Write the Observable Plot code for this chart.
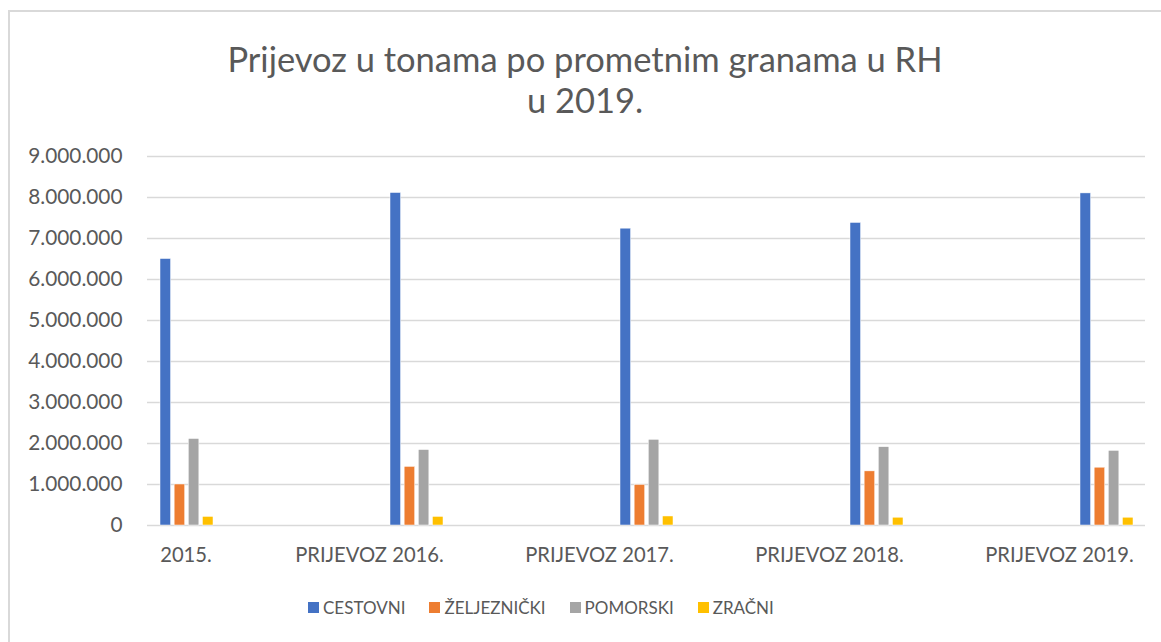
<!DOCTYPE html>
<html>
<head>
<meta charset="utf-8">
<script src="https://cdn.jsdelivr.net/npm/d3@7"></script>
<script src="https://cdn.jsdelivr.net/npm/@observablehq/plot@0.6"></script>
<style>
  html, body { margin: 0; padding: 0; background: #fff; overflow: hidden; }
  #wrap { position: relative; width: 1161px; height: 642px; overflow: hidden; font-family: Lato, "Open Sans", sans-serif; color: #595959; }
  #frame { position: absolute; left: 8px; top: 10px; width: 1200px; height: 700px; border: 2px solid #d9d9d9; box-sizing: border-box; }
  #title { position: absolute; left: 8px; width: 1154px; top: 38px; text-align: center; font-size: 34.5px; line-height: 41px; color: #595959; }
  #chart { position: absolute; left: 0; top: 130px; }
  #legend { position: absolute; top: 597px; left: 308px; display: flex; gap: 24px; font-size: 17px; color: #595959; }
  #legend .item { display: flex; align-items: center; }
  #legend .sw { width: 11px; height: 11px; margin-right: 4px; }
</style>
</head>
<body>
<div id="wrap">
  <div id="frame"></div>
  <div id="title">Prijevoz u tonama po prometnim granama u RH<br>u 2019.</div>
  <div id="chart"></div>
  <div id="legend"></div>
</div>
<script>
const categories = ["2015.", "PRIJEVOZ 2016.", "PRIJEVOZ 2017.", "PRIJEVOZ 2018.", "PRIJEVOZ 2019."];
const seriesNames = ["CESTOVNI", "ŽELJEZNIČKI", "POMORSKI", "ZRAČNI"];
const seriesColors = ["#4472C4", "#ED7D31", "#A5A5A5", "#FFC000"];
const cestovni = [6500000, 8110000, 7240000, 7380000, 8100000];
const zeljeznicki = [1000000, 1430000, 990000, 1320000, 1410000];
const pomorski = [2110000, 1840000, 2090000, 1910000, 1820000];
const zracni = [210000, 210000, 220000, 190000, 190000];
const yTicks = [0, 1000000, 2000000, 3000000, 4000000, 5000000, 6000000, 7000000, 8000000, 9000000];

const seriesValues = [cestovni, zeljeznicki, pomorski, zracni];
const rows = [];
seriesValues.forEach((vals, s) => vals.forEach((v, i) => rows.push({cat: categories[i], series: seriesNames[s], value: v})));

const fmt = d3.formatLocale({decimal: ",", thousands: ".", grouping: [3], currency: ["", ""]}).format(",d");

const xRange = [158, 1135.5];
const pInner = 0.768;
const step = (xRange[1] - xRange[0]) / (categories.length - pInner);
const bw = step * (1 - pInner);
const subStep = bw / (4 - 0.21);
const subW = subStep * (1 - 0.21);

const marks = [
  Plot.ruleY(yTicks, {stroke: "#d9d9d9", strokeWidth: 1.4}),
  Plot.axisY({ticks: yTicks, tickFormat: fmt, tickSize: 0, tickPadding: 25, label: null, fill: "#595959", fontSize: 20.8}),
];
seriesNames.forEach((name, s) => {
  marks.push(Plot.barY(rows.filter(d => d.series === name), {
    x: "cat", y: "value", fill: seriesColors[s], stroke: "#fff", strokeWidth: 0.5,
    insetLeft: s * subStep, insetRight: bw - s * subStep - subW
  }));
});
marks.push(Plot.text(categories.slice(0, 1), {x: d => d, y: () => 0, text: d => d, textAnchor: "start", dx: -bw / 2, dy: 30, fill: "#595959", fontSize: 20.2}));
marks.push(Plot.text(categories.slice(1), {x: d => d, y: () => 0, text: d => d, textAnchor: "end", dx: bw / 2, dy: 30, fill: "#595959", fontSize: 20.2}));

const chart = Plot.plot({
  width: 1161,
  height: 450,
  marginLeft: 147,
  marginRight: 16,
  marginTop: 26,
  marginBottom: 55,
  style: {fontFamily: "Lato, 'Open Sans', sans-serif", fontSize: "20px", color: "#595959", background: "transparent"},
  x: {type: "band", domain: categories, range: xRange, paddingInner: pInner, paddingOuter: 0, axis: null},
  y: {domain: [0, 9000000], axis: null},
  marks
});
document.getElementById("chart").appendChild(chart);

const legend = document.getElementById("legend");
seriesNames.forEach((name, s) => {
  const it = document.createElement("div");
  it.className = "item";
  const sw = document.createElement("div");
  sw.className = "sw";
  sw.style.background = seriesColors[s];
  const t = document.createElement("span");
  t.textContent = name;
  it.appendChild(sw);
  it.appendChild(t);
  legend.appendChild(it);
});
</script>
</body>
</html>
